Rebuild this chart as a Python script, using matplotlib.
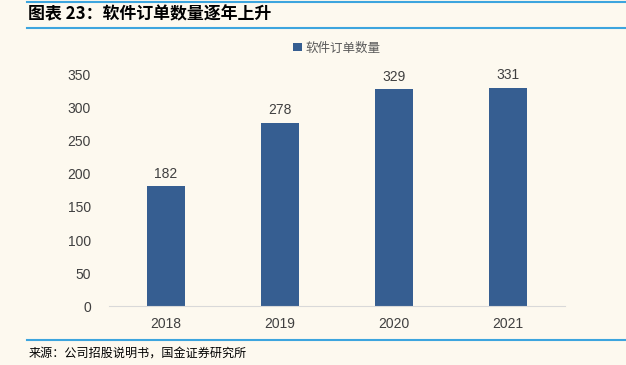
import matplotlib
matplotlib.use("Agg")
import matplotlib.pyplot as plt
from matplotlib.lines import Line2D

plt.rcParams["font.family"] = ["Noto Sans CJK SC", "DejaVu Sans"]

years = ["2018", "2019", "2020", "2021"]
orders = [182, 278, 329, 331]
yticks = [0, 50, 100, 150, 200, 250, 300, 350]

BG = "#FDF9EF"
BAR = "#365E91"
TXT = "#595959"
LINE = "#3DA5DE"

fig = plt.figure(figsize=(6.26, 3.65), dpi=100, facecolor=BG)
ax = fig.add_axes([0.174, 0.1616, 0.729, 0.633], facecolor=BG)

x = range(len(years))
bars = ax.bar(x, orders, width=0.33, color=BAR, label="软件订单数量")
for xi, v in zip(x, orders):
    ax.text(xi, v + 8, str(v), ha="center", va="bottom", fontsize=10,
            color="#404040", family="Liberation Sans")

ax.set_xlim(-0.5, 3.5)
ax.set_ylim(0, 350)
ax.set_xticks(list(x))
ax.set_xticklabels(years, family="Liberation Sans", fontsize=10, color="#404040")
ax.set_yticks(yticks)
ax.set_yticklabels([str(t) for t in yticks], family="Liberation Sans", fontsize=10,
                   color="#404040")
ax.tick_params(axis="both", length=0)
ax.tick_params(axis="y", pad=13)
ax.tick_params(axis="x", pad=8)
for s in ["top", "right", "left"]:
    ax.spines[s].set_visible(False)
ax.spines["bottom"].set_color("#D9D9D9")

ax.legend(loc="lower center", bbox_to_anchor=(0.5, 1.04), frameon=False,
          fontsize=9, handlelength=0.7, handleheight=0.7, handletextpad=0.3,
          labelcolor=TXT)

# title block
fig.add_artist(Line2D([0.043, 1.0], [0.994, 0.994], color=LINE, lw=1.5))
fig.add_artist(Line2D([0.043, 1.0], [0.923, 0.923], color=LINE, lw=1.5))
fig.text(0.045, 0.96, "图表 23：软件订单数量逐年上升", fontsize=12.2,
         fontweight="bold", style="italic", va="center", ha="left", color="black")
fig.add_artist(Line2D([0.043, 1.0], [0.068, 0.068], color=LINE, lw=1.5))
fig.text(0.045, 0.033, "来源：公司招股说明书，国金证券研究所", fontsize=8.7,
         va="center", ha="left", color="black")

fig.savefig("out.png", dpi=100, facecolor=BG)
